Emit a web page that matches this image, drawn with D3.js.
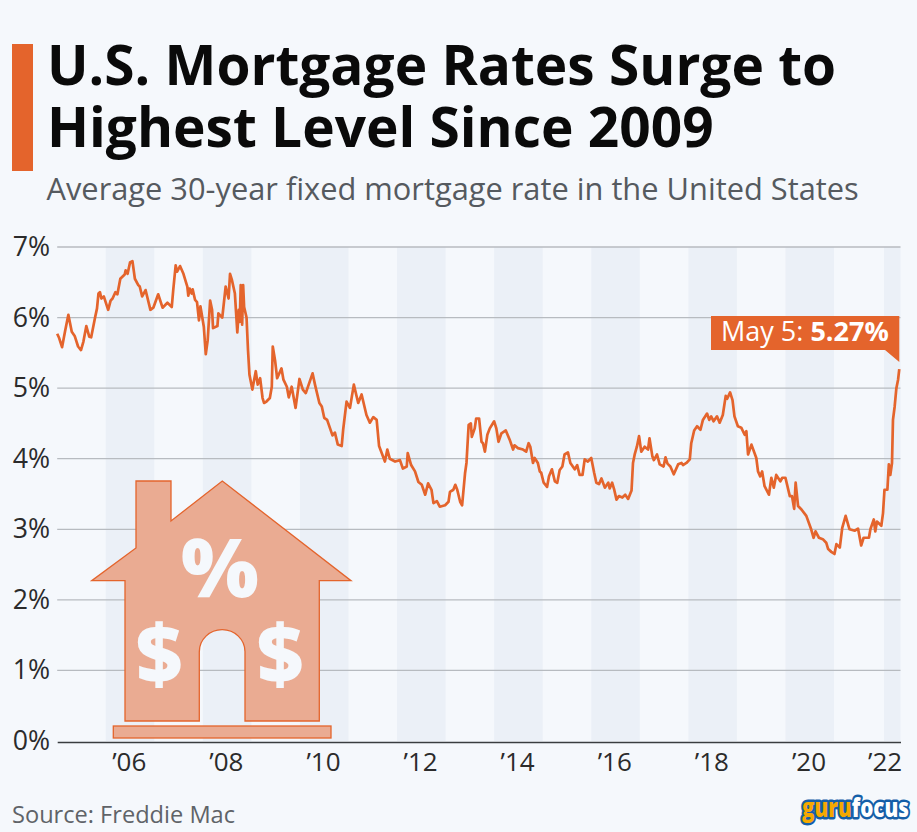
<!DOCTYPE html>
<html><head><meta charset="utf-8">
<script src="https://cdn.jsdelivr.net/npm/d3@7"></script>
<style>html,body{margin:0;padding:0;background:#f5f8fc;overflow:hidden}svg{display:block}text{font-family:"Open Sans",sans-serif}</style>
</head><body><svg id="c" width="917" height="832"></svg>
<script>
const years=[2005.00,2005.04,2005.10,2005.16,2005.23,2005.30,2005.36,2005.43,2005.49,2005.54,2005.60,2005.66,2005.70,2005.78,2005.82,2005.85,2005.88,2005.91,2005.96,2006.05,2006.10,2006.14,2006.20,2006.24,2006.30,2006.39,2006.41,2006.45,2006.50,2006.55,2006.60,2006.67,2006.70,2006.75,2006.82,2006.92,2006.98,2007.08,2007.17,2007.27,2007.36,2007.39,2007.44,2007.47,2007.53,2007.60,2007.68,2007.70,2007.73,2007.77,2007.79,2007.84,2007.88,2007.92,2007.95,2008.02,2008.06,2008.10,2008.15,2008.19,2008.21,2008.30,2008.32,2008.40,2008.47,2008.53,2008.56,2008.60,2008.66,2008.71,2008.74,2008.76,2008.78,2008.81,2008.83,2008.85,2008.90,2008.93,2008.96,2009.02,2009.09,2009.13,2009.18,2009.23,2009.26,2009.31,2009.38,2009.42,2009.44,2009.49,2009.53,2009.62,2009.66,2009.73,2009.77,2009.83,2009.91,2009.99,2010.06,2010.12,2010.26,2010.31,2010.40,2010.45,2010.50,2010.56,2010.67,2010.72,2010.78,2010.86,2010.89,2010.96,2011.03,2011.11,2011.20,2011.27,2011.37,2011.44,2011.51,2011.58,2011.63,2011.75,2011.80,2011.85,2011.96,2012.06,2012.12,2012.20,2012.22,2012.29,2012.37,2012.44,2012.51,2012.58,2012.64,2012.71,2012.75,2012.82,2012.88,2012.99,2013.06,2013.09,2013.16,2013.20,2013.24,2013.30,2013.34,2013.40,2013.43,2013.475,2013.52,2013.54,2013.60,2013.63,2013.69,2013.74,2013.77,2013.81,2013.86,2013.91,2014.00,2014.045,2014.09,2014.15,2014.24,2014.32,2014.39,2014.42,2014.49,2014.595,2014.66,2014.71,2014.745,2014.80,2014.835,2014.90,2014.94,2014.97,2015.02,2015.09,2015.13,2015.16,2015.19,2015.25,2015.30,2015.35,2015.405,2015.45,2015.52,2015.57,2015.66,2015.71,2015.76,2015.82,2015.865,2015.93,2016.00,2016.06,2016.105,2016.16,2016.21,2016.28,2016.35,2016.38,2016.43,2016.47,2016.52,2016.57,2016.64,2016.70,2016.76,2016.83,2016.86,2016.895,2016.94,2016.985,2017.03,2017.10,2017.17,2017.20,2017.26,2017.29,2017.355,2017.41,2017.49,2017.53,2017.57,2017.63,2017.70,2017.79,2017.86,2017.89,2017.96,2018.03,2018.06,2018.12,2018.18,2018.25,2018.30,2018.385,2018.43,2018.47,2018.52,2018.59,2018.645,2018.71,2018.77,2018.80,2018.86,2018.91,2018.95,2019.02,2019.09,2019.16,2019.195,2019.23,2019.30,2019.40,2019.435,2019.48,2019.52,2019.57,2019.66,2019.71,2019.76,2019.81,2019.895,2019.935,2020.00,2020.09,2020.135,2020.18,2020.21,2020.26,2020.33,2020.43,2020.53,2020.58,2020.62,2020.69,2020.77,2020.84,2020.88,2020.945,2021.01,2021.05,2021.12,2021.17,2021.24,2021.32,2021.43,2021.495,2021.56,2021.61,2021.72,2021.75,2021.82,2021.85,2021.885,2021.975,2022.01,2022.04,2022.10,2022.13,2022.16,2022.195,2022.215,2022.25,2022.285,2022.32,2022.345];
const rates=[5.77,5.71,5.58,5.80,6.04,5.80,5.74,5.59,5.54,5.66,5.88,5.73,5.72,6.00,6.13,6.34,6.36,6.27,6.30,6.11,6.24,6.27,6.36,6.33,6.55,6.61,6.67,6.62,6.78,6.80,6.55,6.46,6.44,6.30,6.39,6.11,6.14,6.33,6.14,6.21,6.15,6.39,6.74,6.65,6.73,6.62,6.44,6.31,6.41,6.34,6.40,6.25,6.22,5.96,6.16,5.87,5.48,5.68,6.24,6.11,5.85,5.88,6.06,6.00,6.44,6.27,6.62,6.53,6.34,5.79,6.11,5.94,6.46,5.90,6.46,6.15,6.00,5.54,5.19,4.98,5.24,5.05,5.14,4.86,4.79,4.81,4.86,5.02,5.59,5.38,5.14,5.28,5.12,5.02,4.87,5.02,4.72,5.13,4.98,4.93,5.21,5.05,4.79,4.74,4.58,4.55,4.33,4.37,4.20,4.18,4.41,4.81,4.72,5.05,4.79,4.91,4.62,4.51,4.59,4.55,4.18,3.96,4.13,4.00,3.96,3.98,3.86,3.89,4.08,3.91,3.82,3.67,3.63,3.49,3.65,3.56,3.37,3.40,3.32,3.34,3.39,3.53,3.56,3.63,3.56,3.39,3.34,3.79,3.94,4.48,4.50,4.31,4.43,4.57,4.57,4.24,4.22,4.10,4.34,4.43,4.53,4.43,4.24,4.36,4.40,4.27,4.13,4.19,4.15,4.13,4.10,4.22,4.17,3.94,4.01,3.94,3.82,3.80,3.66,3.60,3.75,3.80,3.85,3.68,3.66,3.84,3.89,4.06,4.09,3.94,3.85,3.91,3.77,3.77,3.99,3.96,4.01,3.80,3.66,3.64,3.72,3.59,3.66,3.58,3.66,3.57,3.42,3.47,3.45,3.49,3.43,3.55,3.94,4.06,4.17,4.32,4.10,4.17,4.13,4.29,4.03,3.98,4.06,3.92,3.89,4.02,3.93,3.89,3.78,3.92,3.94,3.91,3.94,3.99,4.22,4.40,4.46,4.41,4.55,4.64,4.55,4.60,4.53,4.60,4.51,4.62,4.89,4.85,4.94,4.83,4.60,4.46,4.44,4.34,4.39,4.06,4.20,4.01,3.82,3.75,3.82,3.61,3.49,3.73,3.59,3.77,3.68,3.73,3.73,3.47,3.47,3.29,3.66,3.33,3.28,3.19,3.00,2.88,2.97,2.88,2.86,2.81,2.72,2.68,2.65,2.79,2.74,3.02,3.19,3.00,2.98,3.01,2.77,2.88,2.88,3.00,3.14,2.97,3.11,3.05,3.23,3.56,3.56,3.92,3.77,3.94,4.55,4.74,5.00,5.12,5.27];
const xTicks=[2006,2008,2010,2012,2014,2016,2018,2020,2022];
const yTicks=[0,1,2,3,4,5,6,7];
const titleLines=["U.S. Mortgage Rates Surge to","Highest Level Since 2009"];
const subtitle="Average 30-year fixed mortgage rate in the United States";
const source="Source: Freddie Mac";
const lastLabel="May 5: ", lastValue="5.27%";
const orange="#e4642c";
const svg=d3.select("#c");
const xEnd=2022.37;
const x=d3.scaleLinear().domain([2005,xEnd]).range([57.2,900.5]);
const y=d3.scaleLinear().domain([0,7]).range([741,247]);
svg.append("rect").attr("width",917).attr("height",832).attr("fill","#f5f8fc");
// bands
const bands=xTicks.map(t=>[t===2022?t+0.03:t,Math.min(t+1,xEnd)]);
svg.append("g").selectAll("rect").data(bands).join("rect")
 .attr("x",d=>x(d[0])).attr("width",d=>x(d[1])-x(d[0]))
 .attr("y",y(7)).attr("height",y(0)-y(7)).attr("fill","#ebf0f7");
// grid
svg.append("g").selectAll("line").data(yTicks.filter(d=>d>0)).join("line")
 .attr("x1",x(2005)).attr("x2",x(xEnd)).attr("y1",d=>y(d)).attr("y2",d=>y(d))
 .attr("stroke","#b7bbc0").attr("stroke-width",1.3);
// y labels
svg.append("g").selectAll("text").data(yTicks).join("text")
 .attr("x",50).attr("y",d=>y(d)+9).attr("text-anchor","end")
 .attr("font-size",26.7).attr("fill","#2b2b2b").text(d=>d+"%");
// x axis
const xAxis=d3.axisBottom(x).tickValues(xTicks).tickSize(0).tickPadding(11).tickFormat(d=>"’"+String(d).slice(2));
const gx=svg.append("g").attr("transform",`translate(0,${y(0)+1})`).call(xAxis);
gx.select(".domain").attr("stroke","#3a3d40").attr("stroke-width",1.6);
gx.selectAll("text").attr("font-size",26).attr("fill","#2b2b2b").attr("font-family",'"Open Sans",sans-serif')
 .attr("transform",d=>`translate(${d===2022?2:23},0)`);
// line
svg.append("path").datum(d3.zip(years,rates))
 .attr("fill","none").attr("stroke",orange).attr("stroke-width",2.7).attr("stroke-linejoin","round")
 .attr("d",d3.line().x(d=>x(d[0])).y(d=>y(d[1])));
// house
const house=svg.append("g");
const hp="M136 481H171V521L222.3 481L351 580.7H319.3V721H245V651.7A22.85 22 0 0 0 199.3 651.7V721H125V580.7H91.7L136 548Z";
house.append("path").attr("d",hp).attr("fill","#eaab92").attr("stroke",orange).attr("stroke-width",1.3).attr("stroke-linejoin","miter");
house.append("rect").attr("x",113.3).attr("y",726).attr("width",217.7).attr("height",12).attr("fill","#eaab92").attr("stroke",orange).attr("stroke-width",1.3);
house.selectAll("text").data([["%",220,597,82],["$",159,683,81],["$",280,683,81]]).join("text")
 .attr("x",d=>d[1]).attr("y",d=>d[2]).attr("font-size",d=>d[3]).attr("font-weight",800).attr("text-anchor","middle").attr("fill","#f5f8fc").text(d=>d[0]);
// header
svg.append("rect").attr("x",12).attr("y",44).attr("width",21).attr("height",127).attr("fill",orange);
svg.append("g").selectAll("text").data(titleLines).join("text")
 .attr("x",47).attr("y",(d,i)=>84.5+i*62).attr("font-size",55).attr("font-weight",700).attr("fill","#0a0a0a").text(d=>d);
svg.append("text").attr("x",46.5).attr("y",199.5).attr("font-size",30.8).attr("fill","#555a5f").text(subtitle);
svg.append("text").attr("x",12).attr("y",823).attr("font-size",23.6).attr("fill","#5f6368").text(source);
// callout
const ex=x(years[years.length-1]);
svg.append("path").attr("d",`M711 316H${ex}V362L885 350H711Z`).attr("fill",orange);
const t=svg.append("text").attr("x",721).attr("y",341).attr("font-size",27).attr("fill","#fff");
t.append("tspan").text(lastLabel);
t.append("tspan").attr("font-weight",700).text(lastValue);
// logo: a single text, narrowed by a horizontal scale
const logo=svg.append("text").attr("font-size",27).attr("font-weight",800).attr("stroke","#155fa8").attr("stroke-width",5)
 .attr("stroke-linejoin","round").attr("paint-order","stroke");
logo.append("tspan").attr("fill","#f5a800").text("guru");
logo.append("tspan").attr("fill","#ffffff").text("focus");
logo.attr("transform",`translate(802,817) scale(${107/logo.node().getComputedTextLength()},1)`);
</script></body></html>
